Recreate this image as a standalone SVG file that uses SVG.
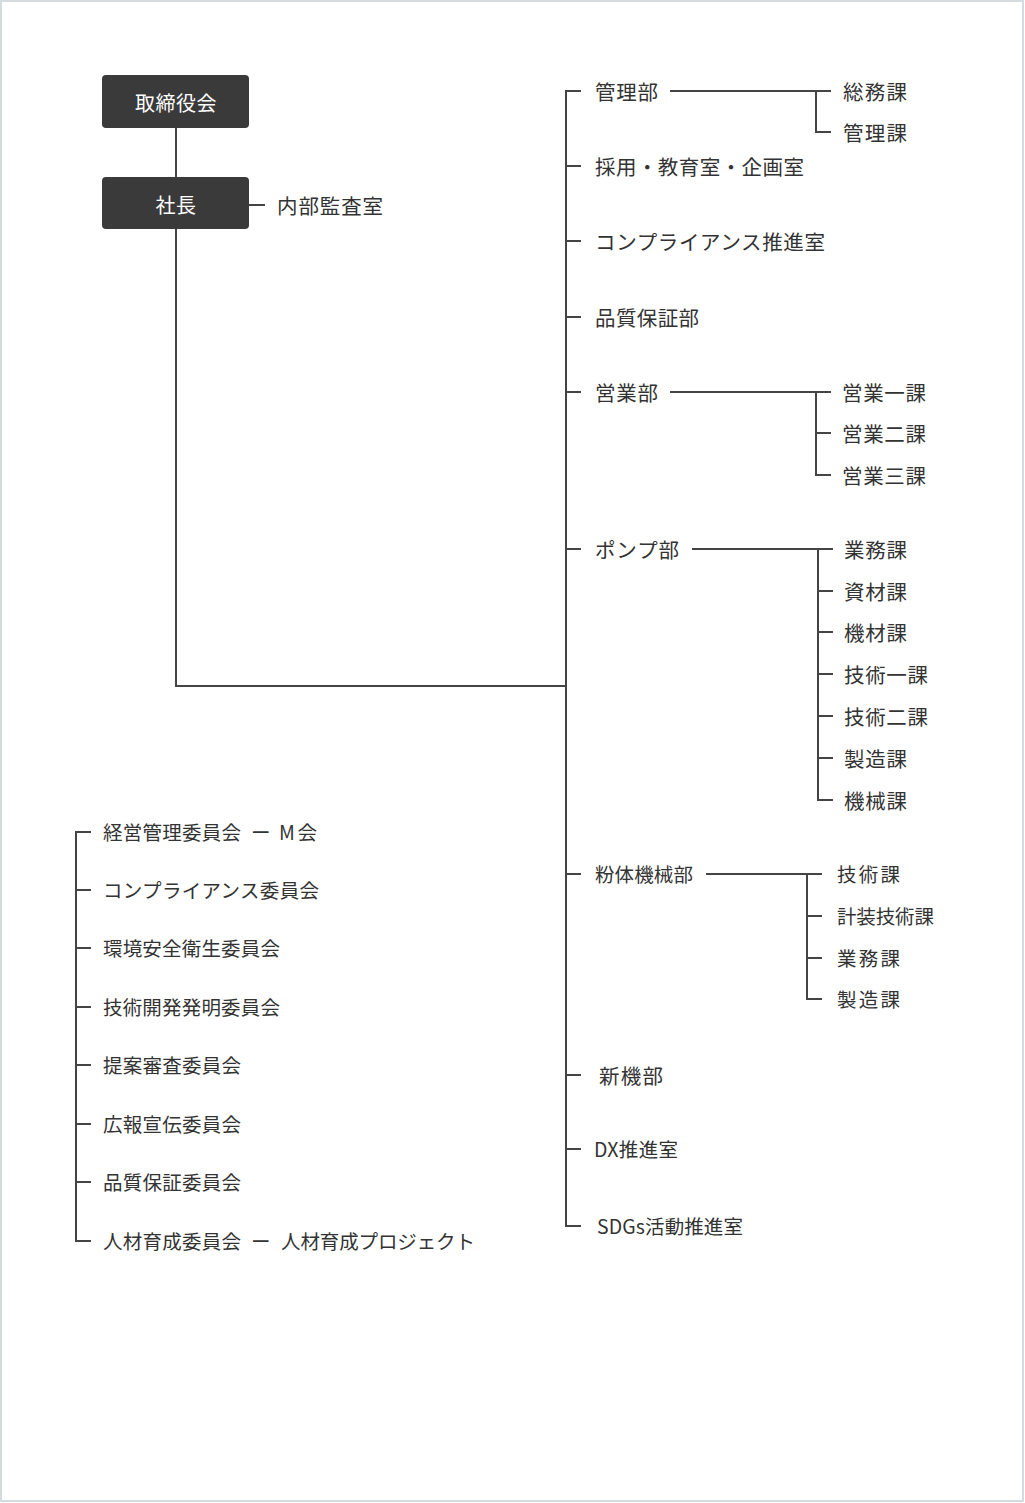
<svg xmlns="http://www.w3.org/2000/svg" width="1025" height="1503" viewBox="0 0 1025 1503">
<style>
.t{font-family:"Noto Sans CJK JP","Noto Sans",sans-serif;font-size:19.5px;fill:#333;dominant-baseline:central}
.r{font-size:20.5px}
.w{font-family:"Noto Sans CJK JP","Noto Sans",sans-serif;font-size:20px;fill:#fff;dominant-baseline:central;text-anchor:middle;letter-spacing:0.5px}
.c{fill:none;stroke:#444;stroke-width:2}
.box{fill:#3a3a3a}
</style>
<rect x="1" y="1" width="1022" height="1500" fill="#fff" stroke="#d5dbde" stroke-width="2"/>
<g id="connectors" class="c">
<path d="M176 128V177M176 229V686H566M249 205H265"/>
<path d="M581 91H566V1226H581M566 166H581M566 241H581M566 317H581M566 392H581M566 549H581M566 874H581M566 1075H581M566 1149H581"/>
<path d="M670 91H831M816 91V132H831"/>
<path d="M670 392H831M816 392V475H831M816 433H831"/>
<path d="M692 549H833M818 549V800H833M818 591H833M818 632H833M818 674H833M818 716H833M818 758H833"/>
<path d="M706 874H822M807 874V999H822M807 916H822M807 958H822"/>
<path d="M91 832H76V1241H91M76 890H91M76 948H91M76 1007H91M76 1065H91M76 1124H91M76 1182H91"/>
</g>
<g id="n-torishimariyakukai"><rect class="box" x="102" y="75" width="147" height="53" rx="4"/><text class="w" x="176" y="102.5">取締役会</text></g>
<g id="n-shacho"><rect class="box" x="102" y="177" width="147" height="52" rx="4"/><text class="w" x="176" y="204.5">社長</text></g>
<g id="n-naibu"><text class="t r" x="277" y="204.5" textLength="106">内部監査室</text></g>
<g id="n-kanribu"><text class="t r" x="595" y="90.5" textLength="63">管理部</text></g>
<g id="n-somuka"><text class="t r" x="843" y="90.5" textLength="64">総務課</text></g>
<g id="n-kanrika"><text class="t r" x="843" y="131.5" textLength="64">管理課</text></g>
<g id="n-saiyo"><text class="t r" x="595" y="165.5" textLength="209">採用・教育室・企画室</text></g>
<g id="n-compliance"><text class="t r" x="595" y="240.5" textLength="230">コンプライアンス推進室</text></g>
<g id="n-hinshitsu"><text class="t r" x="595" y="316.5" textLength="104">品質保証部</text></g>
<g id="n-eigyobu"><text class="t r" x="595" y="391.5" textLength="63">営業部</text></g>
<g id="n-eigyo1"><text class="t r" x="842" y="391.5" textLength="84">営業一課</text></g>
<g id="n-eigyo2"><text class="t r" x="842" y="432.5" textLength="84">営業二課</text></g>
<g id="n-eigyo3"><text class="t r" x="842" y="474.5" textLength="84">営業三課</text></g>
<g id="n-pumpbu"><text class="t r" x="595" y="548.5" textLength="84">ポンプ部</text></g>
<g id="n-p1"><text class="t r" x="844" y="548.5" textLength="63">業務課</text></g>
<g id="n-p2"><text class="t r" x="844" y="590.5" textLength="63">資材課</text></g>
<g id="n-p3"><text class="t r" x="844" y="631.5" textLength="63">機材課</text></g>
<g id="n-p4"><text class="t r" x="844" y="673.5" textLength="84">技術一課</text></g>
<g id="n-p5"><text class="t r" x="844" y="715.5" textLength="84">技術二課</text></g>
<g id="n-p6"><text class="t r" x="844" y="757.5" textLength="63">製造課</text></g>
<g id="n-p7"><text class="t r" x="844" y="799.5" textLength="63">機械課</text></g>
<g id="n-funtai"><text class="t" x="595" y="873.5" textLength="98">粉体機械部</text></g>
<g id="n-f1"><text class="t" x="837" y="873.5" textLength="63">技術課</text></g>
<g id="n-f2"><text class="t" x="837" y="915.5" textLength="97">計装技術課</text></g>
<g id="n-f3"><text class="t" x="837" y="957.5" textLength="63">業務課</text></g>
<g id="n-f4"><text class="t" x="837" y="998.5" textLength="63">製造課</text></g>
<g id="n-shinki"><text class="t r" x="599" y="1074.5" textLength="64">新機部</text></g>
<g id="n-dx"><text class="t" x="594" y="1148.5" textLength="84">DX推進室</text></g>
<g id="n-sdgs"><text class="t" x="597" y="1225.5" textLength="146">SDGs活動推進室</text></g>
<g id="n-c1"><text class="t" x="103" y="831.5" textLength="138">経営管理委員会</text><text class="t" x="251" y="831.5">ー</text><text class="t" x="279" y="831.5" textLength="38">M会</text></g>
<g id="n-c2"><text class="t" x="103" y="889.5" textLength="216">コンプライアンス委員会</text></g>
<g id="n-c3"><text class="t" x="103" y="947.5" textLength="177">環境安全衛生委員会</text></g>
<g id="n-c4"><text class="t" x="103" y="1006.5" textLength="177">技術開発発明委員会</text></g>
<g id="n-c5"><text class="t" x="103" y="1064.5" textLength="138">提案審査委員会</text></g>
<g id="n-c6"><text class="t" x="103" y="1123.5" textLength="138">広報宣伝委員会</text></g>
<g id="n-c7"><text class="t" x="103" y="1181.5" textLength="138">品質保証委員会</text></g>
<g id="n-c8"><text class="t" x="103" y="1240.5" textLength="138">人材育成委員会</text><text class="t" x="251" y="1240.5">ー</text><text class="t" x="281" y="1240.5" textLength="194">人材育成プロジェクト</text></g>
</svg>
